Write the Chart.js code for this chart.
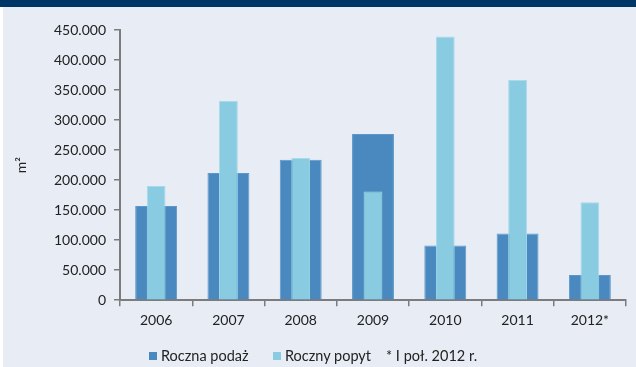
<!DOCTYPE html>
<html>
<head>
<meta charset="utf-8">
<script src="https://cdn.jsdelivr.net/npm/chart.js@4"></script>
<style>
  body { margin: 0; background: #fff; }
  #wrap { position: relative; width: 636px; height: 367px; background: #e8edf5; border-left: 3px solid #fff; box-sizing: border-box; }
  #band { position: absolute; left: -3px; top: 0; width: 636px; height: 7px; background: #003567; z-index: 2; }
  #chart { position: absolute; left: -3px; top: 0; }
  #legend { position: absolute; left: 0; top: 347px; width: 636px; font-family: Lato, sans-serif; font-size: 14.5px; color: #222; }
  #legend span.item { position: absolute; top: 0; white-space: nowrap; }
  #legend i { display: inline-block; width: 8px; height: 8px; margin-right: 4px; vertical-align: 1px; }
</style>
</head>
<body>
<div id="wrap">
  <div id="band"></div>
  <canvas id="chart" width="636" height="367"></canvas>
  <div id="legend"></div>
</div>
<script>
// yearly office supply vs demand, m2
const years = ['2006', '2007', '2008', '2009', '2010', '2011', '2012*'];
const supply = [157000, 212000, 234000, 277000, 91000, 111000, 42000];
const demand = [190000, 332000, 237000, 181000, 439000, 367000, 163000];
const seriesNames = ['Roczna podaż', 'Roczny popyt'];
const footnote = '* I poł. 2012 r.';

const darkBlue = '#4a89bf';
const lightBlue = '#89cbe1';
const axisGrey = '#7c7c7c';

// legend drawn as plain html under the chart
const legend = document.getElementById('legend');
[[seriesNames[0], darkBlue, 146], [seriesNames[1], lightBlue, 270], [footnote, null, 383]].forEach(it => {
    const s = document.createElement('span');
    s.className = 'item';
    s.style.left = it[2] + 'px';
    s.innerHTML = (it[1] ? '<i style="background:' + it[1] + '"></i>' : '') + it[0];
    legend.appendChild(s);
});

function fmt(v) {
    return v.toString().replace(/\B(?=(\d{3})+(?!\d))/g, '.');
}

const ctx = document.getElementById('chart').getContext('2d');
const chart = new Chart(ctx, {
    type: 'bar',
    data: {
        labels: years,
        datasets: [{
            label: seriesNames[0],
            data: supply,
            backgroundColor: darkBlue,
            borderColor: '#5d97c9',
            borderWidth: 1,
            grouped: false,
            categoryPercentage: 1,
            barPercentage: 0.58,
            order: 2
        }, {
            label: seriesNames[1],
            data: demand,
            backgroundColor: lightBlue,
            borderColor: '#a6d9ea',
            borderWidth: 1,
            grouped: false,
            categoryPercentage: 1,
            barPercentage: 0.26,
            order: 1
        }]
    },
    options: {
        responsive: false,
        animation: false,
        layout: { padding: { left: 3, right: 10, top: 30, bottom: 32 } },
        plugins: { legend: { display: false }, tooltip: { enabled: false } },
        scales: {
            x: {
                grid: { offset: true, drawOnChartArea: false, tickLength: 6, color: axisGrey, lineWidth: 1.5 },
                border: { color: axisGrey, width: 2 },
                ticks: { color: '#222', padding: 6, font: { family: 'Lato', size: 14 } }
            },
            y: {
                min: 0,
                max: 450000,
                afterFit: s => { s.width = 117; },
                grid: { drawOnChartArea: false, tickLength: 6, color: axisGrey, lineWidth: 1.5 },
                border: { color: axisGrey, width: 2 },
                ticks: { stepSize: 50000, color: '#222', padding: 8, font: { family: 'Lato', size: 14 }, callback: v => fmt(v) },
                title: { display: true, text: 'm²', color: '#222', font: { family: 'Lato', size: 14 }, padding: { top: 10, bottom: 0 } }
            }
        }
    }
});
</script>
</body>
</html>
